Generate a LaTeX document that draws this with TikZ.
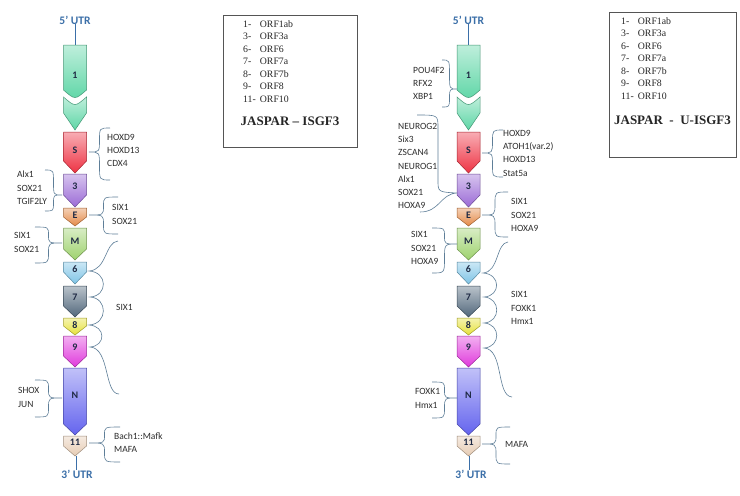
\documentclass[tikz,border=0pt]{standalone}
\usepackage{fontspec}
\setmainfont{Liberation Serif}
\setsansfont{Carlito}
\definecolor{orfone}{HTML}{5ED6A6}
\definecolor{orfS}{HTML}{EE3344}
\definecolor{orfthree}{HTML}{9B6BD6}
\definecolor{orfE}{HTML}{E48A48}
\definecolor{orfM}{HTML}{9ED26E}
\definecolor{orfsix}{HTML}{7EC4E6}
\definecolor{orfseven}{HTML}{52687C}
\definecolor{orfeight}{HTML}{E6E23A}
\definecolor{orfnine}{HTML}{E03ADC}
\definecolor{orfN}{HTML}{6464EE}
\definecolor{orfeleven}{HTML}{E6CCB4}
\definecolor{curlcol}{HTML}{5E7E98}
\definecolor{utrblue}{HTML}{3B6FA8}
\definecolor{labnavy}{HTML}{1F2A44}
\definecolor{tfgray}{HTML}{2E2E2E}
\definecolor{legtext}{HTML}{262626}
\definecolor{boxgray}{HTML}{555555}
\newcommand{\orfpart}[8]{%
  \shade[top color=#6!40!white, bottom color=#6, draw=#6!70!black, line width=0.5pt]
    (#2-11.5,#3) -- (#2+11.5,#3) -- (#2+11.5,#4) -- (#2,#5) -- (#2-11.5,#4) -- cycle;
  \node[orflab] (#1) at (#2,#8) {#7};}
\newcommand{\tfcurl}[5]{%
  \pgfmathsetmacro{\cxm}{(#1+#3)/2}
  \pgfmathsetmacro{\cya}{#2+0.5*(#4-#2)}
  \pgfmathsetmacro{\cyc}{#4+0.5*(#5-#4)}
  \draw[curl] (#1,#2) .. controls (\cxm,#2) .. (\cxm,\cya)
    .. controls (\cxm,#4) .. (#3,#4) .. controls (\cxm,#4) .. (\cxm,\cyc)
    .. controls (\cxm,#5) .. (#1,#5);}
\begin{document}
\begin{tikzpicture}[x=1pt, y=-1pt,
    orflab/.style={font=\sffamily\bfseries\fontsize{10}{11}\selectfont, text=labnavy, inner sep=0pt},
    tf/.style={font=\sffamily\fontsize{9.5}{13.3}\selectfont, text=tfgray, anchor=west, align=left, inner sep=0pt},
    utr/.style={font=\sffamily\bfseries\fontsize{11.5}{12}\selectfont, text=utrblue, inner sep=0pt},
    utrline/.style={draw=utrblue, line width=0.8pt},
    curl/.style={draw=curlcol, line width=0.6pt},
    orflist/.style={font=\fontsize{9.8}{12.5}\selectfont, text=legtext, anchor=north west, inner sep=0pt},
    jaspar/.style={font=\bfseries\fontsize{13}{15}\selectfont, text=legtext, inner sep=0pt},
    legbox/.style={draw=boxgray, line width=0.7pt}]
      \fill[white] (0,0) rectangle (740,496);
      \useasboundingbox (0,0) rectangle (740,496);
      % left genome
      \node[utr] (l5utr) at (75,20) {5' UTR};
      \coordinate (l1top) at (75,45);
      \draw[utrline] (l5utr) -- (l1top);
      \shade[top color=orfone!40!white, bottom color=orfone, draw=orfone!70!black, line width=0.5pt]
        (63.5,45) -- (86.5,45) -- (86.5,90) .. controls (75,100) .. (63.5,90) -- cycle;
      \shade[top color=orfone!40!white, bottom color=orfone, draw=orfone!70!black, line width=0.5pt]
        (63.5,97) .. controls (75,107) .. (86.5,97) -- (86.5,113) -- (75,130) -- (63.5,113) -- cycle;
      \node[orflab] (l1) at (75,75) {1};
      \orfpart{lS}{75}{132}{161}{173}{orfS}{S}{150}
      \orfpart{l3}{75}{174}{195}{207}{orfthree}{3}{186}
      \orfpart{lE}{75}{208}{217}{226}{orfE}{E}{215}
      \orfpart{lM}{75}{228}{249}{260}{orfM}{M}{241}
      \orfpart{l6}{75}{262}{272}{284}{orfsix}{6}{269}
      \orfpart{l7}{75}{286}{306}{317}{orfseven}{7}{297}
      \orfpart{l8}{75}{318}{326}{335}{orfeight}{8}{325}
      \orfpart{l9}{75}{336}{356}{367}{orfnine}{9}{347}
      \orfpart{lN}{75}{368}{424}{435}{orfN}{N}{395}
      \orfpart{l11}{75}{436}{446}{456}{orfeleven}{11}{442}
      \coordinate (l11tip) at (76,456);
      \node[utr] (l3utr) at (77,474) {3' UTR};
      \draw[utrline] (l11tip) -- (l11tip |- l3utr.north);
      \node[tf] (ltfS) at (107,150.5) {HOXD9\\HOXD13\\CDX4};
      \node[tf] (ltf3) at (17,188) {Alx1\\SOX21\\TGIF2LY};
      \node[tf] (ltfE) at (112,214.5) {SIX1\\SOX21};
      \node[tf] (ltfM) at (14,242.5) {SIX1\\SOX21};
      \node[tf] (ltf69) at (116,307) {SIX1};
      \node[tf] (ltfN) at (18,397.5) {SHOX\\JUN};
      \node[tf] (ltf11) at (114,442.5) {Bach1::Mafk\\MAFA};
      \begin{scope}
        \tfcurl{110}{128}{89}{152}{180}
        \tfcurl{45}{170}{62}{195}{211}
        \tfcurl{118}{197}{89}{215}{234}
        \tfcurl{35}{227}{62}{243}{263}
        \tfcurl{35}{380}{62}{398}{417}
        \tfcurl{120}{427}{89}{443}{462}
        \draw[curl] (118,241) .. controls (105,242) and (107,270) .. (89,271)
          .. controls (108,272) and (108,296) .. (90,297)
          .. controls (108,298) and (108,324) .. (89,325)
          .. controls (106,326) and (106,346) .. (90,347)
          .. controls (110,348) and (104,394) .. (119,394);
      \end{scope}
      % left legend
      \draw[legbox] (223,15) rectangle (357,147);
      \node[orflist] (llist) at (243,18.5) {\begin{tabular}{@{}l@{\hspace{4pt}}l@{}}
        1- & ORF1ab\\ 3- & ORF3a\\ 6- & ORF6\\ 7- & ORF7a\\ 8- & ORF7b\\ 9- & ORF8\\ 11- & ORF10
        \end{tabular}};
      \node[jaspar] (ljaspar) at (290,121) {JASPAR -- ISGF3};
      % right genome
      \node[utr] (r5utr) at (468.5,20) {5' UTR};
      \coordinate (r1top) at (468.5,45);
      \draw[utrline] (r5utr) -- (r1top);
      \shade[top color=orfone!40!white, bottom color=orfone, draw=orfone!70!black, line width=0.5pt]
        (457,45) -- (480,45) -- (480,90) .. controls (468.5,100) .. (457,90) -- cycle;
      \shade[top color=orfone!40!white, bottom color=orfone, draw=orfone!70!black, line width=0.5pt]
        (457,97) .. controls (468.5,107) .. (480,97) -- (480,113) -- (468.5,130) -- (457,113) -- cycle;
      \node[orflab] (r1) at (468.5,75) {1};
      \orfpart{rS}{468.5}{132}{161}{173}{orfS}{S}{150}
      \orfpart{r3}{468.5}{174}{195}{207}{orfthree}{3}{186}
      \orfpart{rE}{468.5}{208}{217}{226}{orfE}{E}{215}
      \orfpart{rM}{468.5}{228}{249}{260}{orfM}{M}{241}
      \orfpart{r6}{468.5}{262}{272}{284}{orfsix}{6}{269}
      \orfpart{r7}{468.5}{286}{306}{317}{orfseven}{7}{297}
      \orfpart{r8}{468.5}{318}{326}{335}{orfeight}{8}{325}
      \orfpart{r9}{468.5}{336}{356}{367}{orfnine}{9}{347}
      \orfpart{rN}{468.5}{368}{424}{435}{orfN}{N}{395}
      \orfpart{r11}{468.5}{436}{446}{456}{orfeleven}{11}{442}
      \coordinate (r11tip) at (469.5,456);
      \node[utr] (r3utr) at (471,474) {3' UTR};
      \draw[utrline] (r11tip) -- (r11tip |- r3utr.north);
      \node[tf] (rtf1) at (413,83.5) {POU4F2\\RFX2\\XBP1};
      \node[tf] (rtf3) at (398,166) {NEUROG2\\Six3\\ZSCAN4\\NEUROG1\\Alx1\\SOX21\\HOXA9};
      \node[tf] (rtfS) at (503,153) {HOXD9\\ATOH1(var.2)\\HOXD13\\Stat5a};
      \node[tf] (rtfE) at (511,215) {SIX1\\SOX21\\HOXA9};
      \node[tf] (rtfM) at (411,248) {SIX1\\SOX21\\HOXA9};
      \node[tf] (rtf69) at (511,308) {SIX1\\FOXK1\\Hmx1};
      \node[tf] (rtfN) at (415,398.5) {FOXK1\\Hmx1};
      \node[tf] (rtf11) at (505,444) {MAFA};
      \begin{scope}
        \tfcurl{442}{60}{457}{89}{107}
        \tfcurl{503}{130}{482}{153}{177}
        \tfcurl{508}{192}{482}{215}{237}
        \tfcurl{432}{228}{457}{244}{273}
        \tfcurl{432}{382}{457}{398}{418}
        \tfcurl{510}{427}{482}{444}{464}
        \draw[curl] (417,115) .. controls (438,115) .. (438,128) -- (438,180)
          .. controls (438,192) .. (457,193) .. controls (440,194) and (440,212) .. (420,212);
        \draw[curl] (508,242) .. controls (496,243) and (499,272) .. (483,273)
          .. controls (501,274) and (501,296) .. (484,297)
          .. controls (501,298) and (501,322) .. (484,323)
          .. controls (501,324) and (501,347) .. (484,348)
          .. controls (504,349) and (496,396) .. (512,397);
      \end{scope}
      % right legend
      \draw[legbox] (609,12) rectangle (736,157);
      \node[orflist] (rlist) at (621,15.5) {\begin{tabular}{@{}l@{\hspace{4pt}}l@{}}
        1- & ORF1ab\\ 3- & ORF3a\\ 6- & ORF6\\ 7- & ORF7a\\ 8- & ORF7b\\ 9- & ORF8\\ 11- & ORF10
        \end{tabular}};
      \node[jaspar] (rjaspar) at (672.5,120) {JASPAR\ \ -\ \ U-ISGF3};
    \end{tikzpicture}
\end{document}
